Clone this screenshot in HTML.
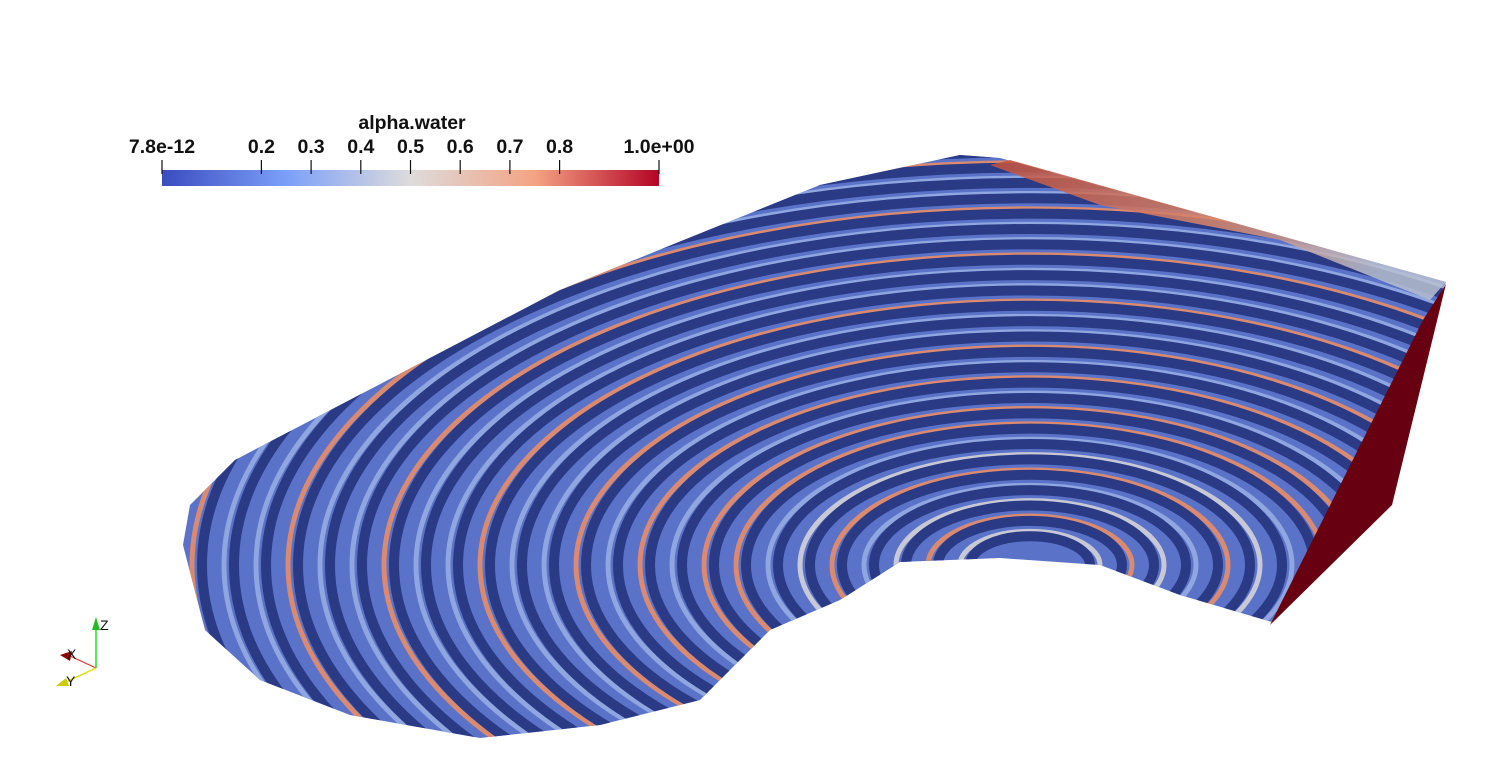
<!DOCTYPE html>
<html><head><meta charset="utf-8"><style>
html,body{margin:0;padding:0;background:#fff;overflow:hidden;width:1512px;height:766px;}
svg{display:block;font-family:"Liberation Sans",sans-serif;}
</style></head><body>
<svg id="s" width="1512" height="766" viewBox="0 0 1512 766">
<defs>
<linearGradient id="cmap" x1="0" x2="1" y1="0" y2="0">
<stop offset="0" stop-color="#3b4cc0"/><stop offset="0.25" stop-color="#7b9ff9"/>
<stop offset="0.5" stop-color="#dddcdc"/><stop offset="0.75" stop-color="#f4a383"/>
<stop offset="1" stop-color="#b40426"/></linearGradient>
<linearGradient id="topg" x1="0" x2="1" y1="0" y2="0.3">
<stop offset="0" stop-color="#c5513c"/><stop offset="0.6" stop-color="#d98a70"/><stop offset="1" stop-color="#b8c0d0"/></linearGradient>
<clipPath id="clip"><polygon points="183,545 190,505 235,460 560,290 820,185 960,155 1000,158 1446,282 1423,330 1272,622 1180,595 1100,565 1000,558 900,562 840,600 770,630 700,700 600,725 480,738 350,715 260,680 205,630"/></clipPath>
</defs>
<g>
<polygon points="183,545 190,505 235,460 560,290 820,185 960,155 1000,158 1446,282 1423,330 1272,622 1180,595 1100,565 1000,558 900,562 840,600 770,630 700,700 600,725 480,738 350,715 260,680 205,630" fill="#5a72c8"/>
<g id="stripes" clip-path="url(#clip)"></g>
</g>
<polygon points="990,165 1010,160 1446,282 1430,300 1280,240 1100,205" fill="url(#topg)" opacity="0.85"/>
<polygon points="1423,320 1446,284 1392,505 1270,625" fill="#670010"/>
<g id="cbar">
<text x="412" y="129" font-size="19.5" font-weight="bold" text-anchor="middle" fill="#111">alpha.water</text>
<rect x="162" y="170" width="497" height="16" fill="url(#cmap)"/>
</g>
<g>
<line x1="96" y1="668" x2="96" y2="625" stroke="#22dd22" stroke-width="1.5"/>
<polygon points="92,630 100,630 96,617" fill="#22bb22"/>
<text x="100" y="630" font-size="14" fill="#111">Z</text>
<line x1="96" y1="668" x2="70" y2="656" stroke="#e03030" stroke-width="1.2"/>
<polygon points="60,655 72,651 70,661" fill="#8b0000"/>
<text x="67" y="659" font-size="14" fill="#111">X</text>
<line x1="96" y1="668" x2="66" y2="682" stroke="#dddd00" stroke-width="1.5"/>
<polygon points="56,686 66,678 69,686" fill="#cccc00"/>
<text x="66" y="686" font-size="14" fill="#111">Y</text>
</g>
</svg>
<script>
const tickValues=[0.2,0.3,0.4,0.5,0.6,0.7,0.8];
const tickLabels=["0.2","0.3","0.4","0.5","0.6","0.7","0.8"];
const endLabels=["7.8e-12","1.0e+00"];
const stripeRadii=[60,92,124,156,188,220,252,284,316,348,380,412,444,476,508,540,572,604,636,668,700,732,764,796,828,860,892];
const stripeAccent=[0,1,0,2,1,0,2,1,1,2,1,2,1,2,2,1,2,2,1,2,2,1,2,2,1,2,1];
const NS='http://www.w3.org/2000/svg';
const x0=162,x1=659;
const sx=v=>x0+v*(x1-x0);
const cb=document.getElementById('cbar');
function txt(x,y,s){const t=document.createElementNS(NS,'text');t.setAttribute('x',x);t.setAttribute('y',y);t.setAttribute('font-size','19.5');t.setAttribute('font-weight','bold');t.setAttribute('text-anchor','middle');t.setAttribute('fill','#111');t.textContent=s;cb.appendChild(t);return t;}
function tick(x){const l=document.createElementNS(NS,'line');l.setAttribute('x1',x);l.setAttribute('x2',x);l.setAttribute('y1',160);l.setAttribute('y2',174);l.setAttribute('stroke','#111');l.setAttribute('stroke-width','1.2');cb.appendChild(l);return l;}
tickValues.forEach((v,i)=>{
const l=tick(sx(v));


const t=txt(sx(v),153,tickLabels[i]);


});
[0,1].forEach(i=>{
const l=tick(sx(i));


const t=txt(sx(i),153,endLabels[i]);


});
const sg=document.getElementById('stripes');
const acc=['#c8c9d6','#d98a70','#8fa6e0'];
stripeRadii.forEach((r,i)=>{
const cx=1030,cy=565;
const e1=document.createElementNS(NS,'ellipse');
e1.setAttribute('cx',cx);e1.setAttribute('cy',cy);e1.setAttribute('rx',r+10);e1.setAttribute('ry',(r+10)*0.48);
e1.setAttribute('fill','none');e1.setAttribute('stroke',acc[stripeAccent[i]]);e1.setAttribute('stroke-width','5');


sg.appendChild(e1);
const e=document.createElementNS(NS,'ellipse');
e.setAttribute('cx',cx);e.setAttribute('cy',cy);e.setAttribute('rx',r);e.setAttribute('ry',r*0.48);
e.setAttribute('fill','none');e.setAttribute('stroke','#2a3a85');e.setAttribute('stroke-width','10');


sg.appendChild(e);
});
</script>
</body></html>
